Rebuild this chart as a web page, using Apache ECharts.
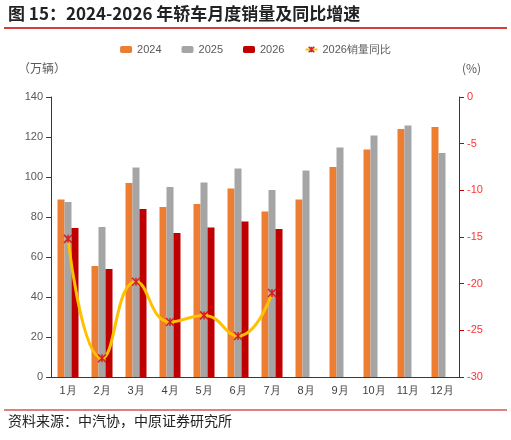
<!DOCTYPE html><html><head><meta charset="utf-8"><script src="https://cdn.jsdelivr.net/npm/echarts@6/dist/echarts.min.js"></script>
<style>body{margin:0}#c{width:511px;height:440px}</style></head><body><div id="c"></div><script>
const categories=['1月','2月','3月','4月','5月','6月','7月','8月','9月','10月','11月','12月'];
const s2024=[88.8,55.5,97,85,86.5,94.3,82.7,88.8,105,113.8,124,125];
const s2025=[87.5,75,104.7,95,97.3,104.3,93.5,103.3,114.8,120.8,125.8,112];
const s2026=[74.5,54,84,72,74.7,77.8,74,null,null,null,null,null];
const yoy2026=[-15.2,-28,-19.8,-24.1,-23.4,-25.6,-21,null,null,null,null,null];
const leftTicks=[0,20,40,60,80,100,120,140];
const c=echarts.init(document.getElementById('c'));
const ax={color:'#C00000'};
c.setOption({
 animation:false,
 graphic:[
  {type:'text',left:8,top:5,style:{text:'图 15：2024-2026 年轿车月度销量及同比增速',font:'bold 17px "Noto Sans CJK SC"',fill:'#222'}},
  {type:'line',shape:{x1:4,y1:28,x2:507,y2:28},style:{stroke:'#C00000',lineWidth:1.5}},
  {type:'line',shape:{x1:4,y1:410,x2:507,y2:410},style:{stroke:'#C00000',lineWidth:1}},
  {type:'text',left:8,top:414,style:{text:'资料来源：中汽协，中原证券研究所',font:'14px "Noto Sans CJK SC"',fill:'#222'}},
  {type:'text',left:18,top:62,style:{text:'（万辆）',font:'12px "Noto Sans CJK SC"',fill:'#595959'}},
  {type:'text',left:462,top:62,style:{text:'(%)',font:'12px "Noto Sans CJK SC"',fill:'#595959'}}
 ],
 legend:{top:39,left:'center',itemWidth:12,itemHeight:7,itemGap:20,textStyle:{fontSize:11,color:'#595959'},
  data:['2024','2025','2026',{name:'2026销量同比',itemStyle:{color:'#D62020',borderColor:'#D62020',borderWidth:1.5}}]},
 grid:{left:51,right:52,top:97,bottom:63},
 xAxis:{type:'category',data:categories,axisLine:{lineStyle:ax},axisTick:{lineStyle:ax},axisLabel:{color:'#404040',fontSize:11}},
 yAxis:[
  {type:'value',min:0,max:140,interval:20,splitLine:{show:false},axisLine:{show:true,lineStyle:ax},axisTick:{show:true,lineStyle:ax},axisLabel:{color:'#595959',fontSize:11,formatter:v=>leftTicks.includes(v)?v:''}},
  {type:'value',min:-30,max:0,interval:5,splitLine:{show:false},axisLine:{show:true,lineStyle:ax},axisTick:{show:true,lineStyle:ax},axisLabel:{color:'#FF3333',fontSize:11}}
 ],
 series:[
  {name:'2024',type:'bar',data:s2024,barWidth:7,barGap:'0%',itemStyle:{color:'#ED7D31'}},
  {name:'2025',type:'bar',data:s2025,barWidth:7,barGap:'0%',itemStyle:{color:'#A5A5A5'}},
  {name:'2026',type:'bar',data:s2026,barWidth:7,barGap:'0%',itemStyle:{color:'#C00000'}},
  {name:'2026销量同比',type:'line',yAxisIndex:1,data:yoy2026,smooth:true,showAllSymbol:true,lineStyle:{color:'#FFC000',width:3},
   itemStyle:{color:'#D62020',borderColor:'#D62020',borderWidth:1.5},
   symbol:'path://M0,0L10,10M10,0L0,10M5,0V10',symbolSize:8,z:5}
 ]
});
</script></body></html>
